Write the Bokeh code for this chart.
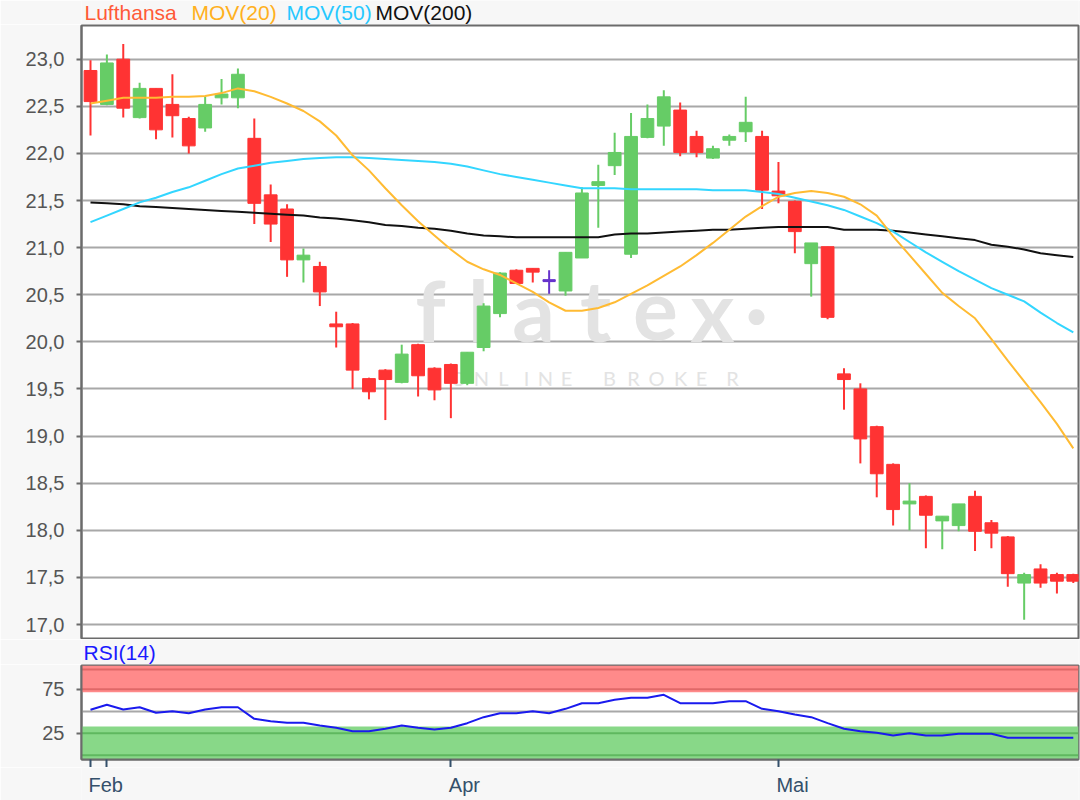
from bokeh.plotting import figure
from bokeh.models import Range1d, FixedTicker, Label, Span, BoxAnnotation, ColumnDataSource
from bokeh.layouts import column
from bokeh.embed import file_html
from bokeh.resources import INLINE

# ---------------- data ----------------
opens = [22.88, 22.52, 23.00, 22.38, 22.69, 22.52, 22.37, 22.27, 22.59, 22.59,
         22.16, 21.56, 21.41, 20.87, 20.80, 20.19, 20.19, 19.61, 19.70, 19.57,
         19.97, 19.72, 19.76, 19.56, 19.94, 20.30, 20.76, 20.78, 20.65, 20.54,
         20.89, 21.66, 21.87, 20.93, 22.17, 22.29, 22.46, 22.18, 21.95, 22.14,
         22.23, 22.18, 21.60, 21.49, 20.83, 21.01, 19.66, 19.50, 19.10, 18.70,
         18.28, 18.36, 18.10, 18.05, 18.36, 18.08, 17.93, 17.44, 17.59, 17.53, 17.53]
highs = [22.99, 23.05, 23.16, 22.75, 22.69, 22.84, 22.39, 22.61, 22.79, 22.90,
         22.37, 21.67, 21.46, 20.99, 20.85, 20.32, 20.20, 19.62, 19.71, 19.97,
         19.98, 19.73, 19.77, 19.89, 20.41, 20.74, 20.77, 20.78, 20.76, 20.95,
         21.64, 21.88, 22.22, 22.43, 22.52, 22.67, 22.54, 22.24, 22.08, 22.20,
         22.60, 22.24, 21.91, 21.50, 21.05, 21.01, 19.72, 19.56, 19.11, 18.71,
         18.50, 18.37, 18.15, 18.28, 18.42, 18.11, 17.94, 17.55, 17.64, 17.55, 17.54]
lows = [22.19, 22.51, 22.38, 22.37, 22.15, 22.17, 22.00, 22.23, 22.52, 22.48,
        21.25, 21.06, 20.69, 20.63, 20.38, 19.94, 19.50, 19.39, 19.17, 19.56,
        19.42, 19.38, 19.19, 19.54, 19.90, 20.26, 20.62, 20.63, 20.51, 20.49,
        20.89, 21.21, 21.77, 20.89, 22.16, 22.08, 21.97, 21.96, 21.94, 22.08,
        22.12, 21.41, 21.47, 20.94, 20.48, 20.24, 19.28, 18.71, 18.35, 18.05,
        18.00, 17.81, 17.80, 17.99, 17.78, 17.81, 17.40, 17.05, 17.39, 17.33, 17.44]
closes = [22.55, 22.96, 22.48, 22.69, 22.25, 22.40, 22.08, 22.52, 22.63, 22.84,
          21.47, 21.25, 20.87, 20.92, 20.53, 20.16, 19.70, 19.47, 19.60, 19.87,
          19.64, 19.49, 19.56, 19.89, 20.38, 20.73, 20.62, 20.74, 20.65, 20.95,
          21.58, 21.70, 22.01, 22.18, 22.37, 22.60, 22.01, 22.01, 22.05, 22.18,
          22.33, 21.61, 21.55, 21.17, 21.05, 20.26, 19.60, 18.97, 18.60, 18.22,
          18.31, 18.16, 18.15, 18.28, 17.99, 17.97, 17.54, 17.53, 17.44, 17.46, 17.46]

mov20 = [22.53, 22.56, 22.59, 22.59, 22.59, 22.60, 22.60, 22.61, 22.64, 22.69,
         22.66, 22.60, 22.53, 22.45, 22.34, 22.19, 21.98, 21.82, 21.63, 21.45,
         21.28, 21.13, 20.98, 20.85, 20.77, 20.71, 20.62, 20.53, 20.42, 20.33,
         20.33, 20.36, 20.42, 20.51, 20.60, 20.70, 20.80, 20.92, 21.05, 21.19,
         21.33, 21.44, 21.54, 21.58, 21.60, 21.58, 21.54, 21.46, 21.34, 21.12,
         20.92, 20.72, 20.52, 20.38, 20.25, 20.03, 19.80, 19.58, 19.36, 19.13, 18.87]
mov50 = [21.27, 21.34, 21.41, 21.48, 21.53, 21.59, 21.64, 21.71, 21.78, 21.84,
         21.87, 21.90, 21.92, 21.94, 21.95, 21.96, 21.96, 21.95, 21.94, 21.93,
         21.92, 21.91, 21.89, 21.86, 21.82, 21.78, 21.75, 21.72, 21.69, 21.66,
         21.63, 21.63, 21.63, 21.62, 21.62, 21.62, 21.62, 21.62, 21.61, 21.61,
         21.61, 21.59, 21.57, 21.53, 21.49, 21.45, 21.40, 21.33, 21.26, 21.17,
         21.06, 20.95, 20.85, 20.75, 20.66, 20.57, 20.50, 20.43, 20.31, 20.20, 20.10]
mov200 = [21.48, 21.47, 21.46, 21.44, 21.43, 21.42, 21.41, 21.40, 21.39, 21.38,
          21.37, 21.36, 21.35, 21.34, 21.32, 21.31, 21.29, 21.27, 21.24, 21.23,
          21.21, 21.20, 21.18, 21.15, 21.13, 21.12, 21.11, 21.11, 21.11, 21.11,
          21.11, 21.11, 21.14, 21.15, 21.15, 21.16, 21.17, 21.18, 21.19, 21.19,
          21.20, 21.21, 21.22, 21.22, 21.22, 21.22, 21.19, 21.19, 21.19, 21.18,
          21.16, 21.14, 21.12, 21.10, 21.08, 21.03, 21.01, 20.98, 20.94, 20.92, 20.90]
rsi14 = [51.6, 57.3, 52.0, 54.5, 48.2, 50.0, 47.7, 52.0, 54.5, 54.5,
         41.3, 38.6, 36.8, 36.8, 33.7, 31.1, 27.3, 27.3, 30.0, 33.7,
         31.1, 29.2, 31.1, 36.4, 43.2, 47.7, 47.7, 50.0, 47.7, 52.7,
         59.1, 59.1, 63.0, 65.2, 65.2, 68.6, 59.1, 59.1, 59.1, 61.4,
         61.4, 52.7, 50.0, 46.2, 43.2, 36.4, 30.0, 27.3, 25.4, 22.4,
         25.0, 22.4, 22.4, 24.3, 24.3, 24.3, 19.8, 19.8, 19.8, 19.8, 19.8]

price_ticks = [17.0, 17.5, 18.0, 18.5, 19.0, 19.5, 20.0, 20.5, 21.0, 21.5, 22.0, 22.5, 23.0]
price_tick_labels = ["17,0", "17,5", "18,0", "18,5", "19,0", "19,5", "20,0",
                     "20,5", "21,0", "21,5", "22,0", "22,5", "23,0"]
rsi_ticks = [25, 75]
rsi_mid = [50]
rsi_over_band = [71.6, 101.93]
rsi_under_band = [-4.89, 32.5]
rsi_band_lines_hi = [75, 97.5]
rsi_band_lines_lo = [0, 25]
month_tick_idx = [0, 1, 22, 42]
month_labels = ["Feb", "", "Apr", "Mai"]

title_parts = ["Lufthansa", "MOV(20)", "MOV(50)", "MOV(200)"]
title_colors = ["#ff5a38", "#ffb020", "#26c8ff", "#111111"]

# ---------------- helpers (pixel -> data, for decorations only) ----------------
def px2x(px):
    return (px - 90.0) / 16.38

def py2price(py):
    return 23.0 - (py - 58.7) / 94.27

def py2rsi(py):
    return 75.0 - (py - 688.7) / 0.88

FONT = "Liberation Sans"
BG = "#f7f7f7"
UP, DOWN, FLAT = "#66cc66", "#ff3333", "#6633cc"

def lab(p, x, y, text, color, size, font=FONT, style="normal", align="left",
        level="annotation", x_offset=0):
    p.add_layout(Label(x=x, y=y, text=text, text_color=color,
                       text_font_size=f"{size}px", text_font=font,
                       text_font_style=style, text_align=align,
                       text_baseline="middle", level=level, x_offset=x_offset))

n = len(opens)
idx = list(range(n))
colors = [UP if c > o else (DOWN if c < o else FLAT) for o, c in zip(opens, closes)]
src = ColumnDataSource(dict(
    x=idx, high=highs, low=lows,
    top=[max(o, c) for o, c in zip(opens, closes)],
    bottom=[min(o, c) for o, c in zip(opens, closes)],
    color=colors))
doji = [i for i in idx if opens[i] == closes[i]]
dsrc = ColumnDataSource(dict(x0=[i - 0.39 for i in doji], x1=[i + 0.39 for i in doji],
                             y=[opens[i] for i in doji], color=[colors[i] for i in doji]))

xr = Range1d(px2x(81), px2x(1078))

def strip(height, top_px):
    # a text strip sharing the x scale; its y data equals the page pixel row
    s = figure(width=1080, height=height, x_range=xr,
               y_range=Range1d(top_px + height, top_px),
               output_backend="svg", toolbar_location=None,
               x_axis_location=None, y_axis_location=None,
               min_border_left=81, min_border_right=2, min_border_top=0, min_border_bottom=0)
    s.background_fill_color = BG
    s.border_fill_color = BG
    s.outline_line_color = None
    s.grid.grid_line_color = None
    return s

# ---------------- header with coloured title ----------------
hdr = strip(24, 0)
title_px = [84, 191, 286, 375]
for t, c, px in zip(title_parts, title_colors, title_px):
    lab(hdr, px2x(px), 12.2, t, c, 21)

# ---------------- main price figure ----------------
p1 = figure(width=1080, height=615, x_range=xr,
            y_range=Range1d(py2price(638.3), py2price(25)),
            output_backend="svg", toolbar_location=None, x_axis_location=None,
            min_border_left=81, min_border_right=2, min_border_top=1, min_border_bottom=1)
p1.background_fill_color = "white"
p1.border_fill_color = BG
p1.outline_line_color = "#6b6b6b"
p1.outline_line_width = 2
p1.xgrid.grid_line_color = None

ya = p1.yaxis[0]
ya.ticker = FixedTicker(ticks=price_ticks)
ya.major_label_overrides = dict(zip(price_ticks, price_tick_labels))
ya.major_label_text_font = FONT
ya.major_label_text_font_size = "20px"
ya.major_label_text_color = "#555555"
ya.axis_line_color = "#6b6b6b"
ya.axis_line_width = 2
ya.major_tick_line_color = "#6b6b6b"
ya.major_tick_line_width = 2
ya.major_tick_out = 5
ya.major_tick_in = 0
ya.minor_tick_line_color = None
ya.major_label_standoff = 12
p1.ygrid.grid_line_color = "#a8a8a8"
p1.ygrid.grid_line_width = 2

# watermark
wm_letters = ["f", "l", "a", "t", "e", "x", "\u00b7"]
wm_px = [430, 478, 533, 595, 655, 712, 756]
for ch, px in zip(wm_letters, wm_px):
    lab(p1, px2x(px), py2price(309), ch, "#e3e3e3", 84, font="Lato", style="bold",
        align="center", level="underlay")
sub_letters = list("ONLINEBROKER")
sub_px = [458, 481, 503, 526, 545, 566, 609, 633, 656, 680, 701, 732]
for ch, px in zip(sub_letters, sub_px):
    lab(p1, px2x(px), py2price(377.5), ch, "#e3e3e3", 20, font="Lato",
        align="center", level="underlay")

# candles
p1.segment(x0="x", y0="low", x1="x", y1="high", line_color="color", line_width=2, source=src)
p1.vbar(x="x", width=0.78, top="top", bottom="bottom", fill_color="color",
        line_color="color", line_width=1, source=src)
p1.segment(x0="x0", y0="y", x1="x1", y1="y", line_color="color", line_width=3, source=dsrc)

# moving averages
p1.line(idx, mov200, line_color="#111111", line_width=2)
p1.line(idx, mov50, line_color="#33d6ff", line_width=2)
p1.line(idx, mov20, line_color="#ffbb33", line_width=2)

# ---------------- RSI header ----------------
hdr2 = strip(25, 639)
lab(hdr2, px2x(83), 651.6, "RSI(14)", "#1a1aff", 21)

# ---------------- RSI figure ----------------
p2 = figure(width=1080, height=103, x_range=xr,
            y_range=Range1d(py2rsi(759), py2rsi(665)),
            output_backend="svg", toolbar_location=None,
            min_border_left=81, min_border_right=2, min_border_top=1, min_border_bottom=8)
p2.background_fill_color = "white"
p2.border_fill_color = BG
p2.outline_line_color = "#6b6b6b"
p2.outline_line_width = 2

p2.add_layout(BoxAnnotation(bottom=rsi_over_band[0], top=rsi_over_band[1],
                            fill_color="#ff8a8a", fill_alpha=1.0, line_color=None, level="underlay"))
p2.add_layout(BoxAnnotation(bottom=rsi_under_band[0], top=rsi_under_band[1],
                            fill_color="#88d888", fill_alpha=1.0, line_color=None, level="underlay"))
for v in rsi_band_lines_hi:
    p2.add_layout(Span(location=v, dimension="width", line_color="#e06868",
                       line_width=2, level="underlay"))
for v in rsi_band_lines_lo:
    p2.add_layout(Span(location=v, dimension="width", line_color="#5fb85f",
                       line_width=2, level="underlay"))

p2.ygrid.ticker = FixedTicker(ticks=rsi_mid)
p2.ygrid.grid_line_color = "#a8a8a8"
p2.ygrid.grid_line_width = 2
p2.xgrid.grid_line_color = None

y2 = p2.yaxis[0]
y2.ticker = FixedTicker(ticks=rsi_ticks)
y2.major_label_text_font = FONT
y2.major_label_text_font_size = "20px"
y2.major_label_text_color = "#555555"
y2.axis_line_color = "#6b6b6b"
y2.axis_line_width = 2
y2.major_tick_line_color = "#6b6b6b"
y2.major_tick_line_width = 2
y2.major_tick_out = 5
y2.major_tick_in = 0
y2.minor_tick_line_color = None
y2.major_label_standoff = 12

x2 = p2.xaxis[0]
x2.ticker = FixedTicker(ticks=month_tick_idx)
x2.major_label_overrides = {t: "" for t in month_tick_idx}
x2.major_label_text_font_size = "0px"
x2.major_label_standoff = 0
x2.axis_line_color = "#6b6b6b"
x2.axis_line_width = 2
x2.major_tick_line_color = "#34506b"
x2.major_tick_line_width = 2
x2.major_tick_out = 8
x2.major_tick_in = 0
x2.minor_tick_line_color = None

p2.line(idx, rsi14, line_color="#1a1aee", line_width=2)

# ---------------- footer with month labels ----------------
ftr = strip(33, 767)
for t, s in zip(month_tick_idx, month_labels):
    if s:
        lab(ftr, t, 784.2, s, "#34506b", 20, x_offset=-2)

layout = column(hdr, p1, hdr2, p2, ftr)
open("out.html", "w").write(file_html(layout, INLINE))
